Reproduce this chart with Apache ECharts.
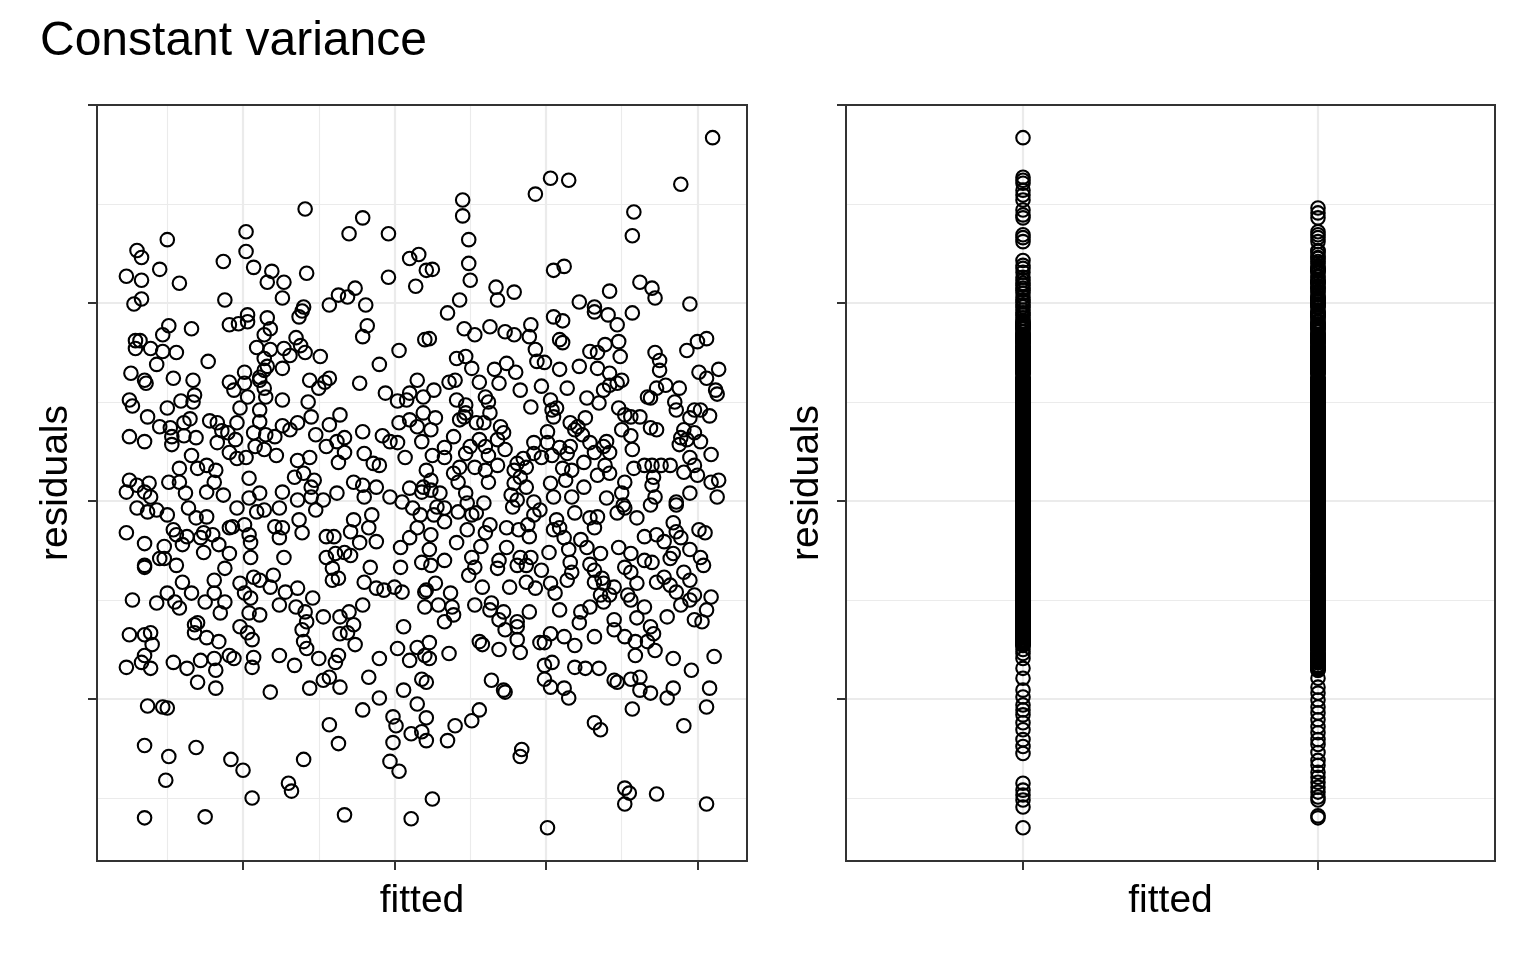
<!DOCTYPE html>
<html>
<head>
<meta charset="utf-8">
<title>Constant variance</title>
<script src="https://cdn.jsdelivr.net/npm/echarts@6.0.0/dist/echarts.min.js"></script>
<style>
html, body { margin: 0; padding: 0; background: #fff; }
#main { width: 1536px; height: 960px; }
</style>
</head>
<body>
<div id="main"></div>
<script>
// left panel: [fitted, residual]
var leftPoints = [
  [1.41,2.95],[1.02,2.72],[0.50,2.64],[1.79,2.86],[1.70,2.70],[1.96,2.70],[0.30,2.53],[0.33,2.46],
  [1.02,2.52],[0.87,2.42],[0.45,2.34],[0.23,2.27],[0.33,2.23],[0.58,2.20],[1.07,2.36],[1.19,2.32],
  [1.16,2.21],[1.27,2.21],[1.42,2.30],[1.26,2.05],[1.96,2.26],[2.10,2.45],[2.16,2.49],[2.14,2.17],
  [1.63,2.08],[1.69,2.06],[1.74,2.15],[1.81,1.98],[1.57,1.98],[0.88,2.03],[0.33,2.04],[0.28,1.99],
  [1.40,1.96],[2.21,2.33],
  [4.10,3.67],[3.03,3.26],[3.15,3.24],[2.93,3.10],[3.89,3.20],[2.45,3.04],[2.45,2.88],[3.58,2.92],
  [3.57,2.68],[2.49,2.64],[2.49,2.40],[2.50,2.23],[2.25,2.34],[2.67,2.16],[2.79,2.11],[2.68,2.03],
  [2.43,2.03],[3.05,2.33],[3.12,2.37],[3.22,2.01],[3.42,2.12],[3.62,2.21],[3.70,2.15],[3.72,2.05],
  [3.95,1.99],[3.32,1.96],
  [0.51,1.77],[0.66,1.74],[0.47,1.68],[0.29,1.62],[0.32,1.62],[0.29,1.54],[0.39,1.54],[0.47,1.51],
  [0.56,1.50],[0.43,1.38],[0.77,1.41],[0.26,1.29],[0.35,1.22],[0.36,1.19],[0.54,1.24],[0.67,1.22],
  [0.25,1.02],[0.27,0.96],[0.50,0.94],[0.59,1.01],[0.68,1.07],[0.67,1.00],[0.37,0.85],[0.45,0.75],
  [0.52,0.74],[0.61,0.79],[0.65,0.83],[0.78,0.81],[0.83,0.79],[0.86,0.71],[0.25,0.65],[0.35,0.60],
  [0.53,0.65],[0.53,0.57],[0.61,0.66],[0.69,0.64],[0.66,0.46],[0.83,0.59],[0.90,0.69],[0.95,0.62],
  [0.91,0.49],[0.96,0.43],[1.02,0.44],[0.91,1.78],[0.97,1.79],[1.03,1.88],[1.03,1.81],[1.16,1.85],
  [1.18,1.74],[1.14,1.68],[1.37,1.86],[1.39,1.92],[1.35,1.65],[1.09,1.55],[1.18,1.53],[1.27,1.54],
  [1.31,1.47],[1.38,1.57],[1.41,1.50],[1.51,1.46],[1.14,1.44],[1.16,1.36],[1.26,1.34],[1.01,1.30],
  [1.14,1.32],[1.11,1.25],[0.91,1.20],[0.94,1.12],[1.01,1.19],[1.03,1.05],[1.11,1.22],[1.14,1.14],
  [1.15,1.05],[1.26,1.02],[0.98,0.94],[1.11,0.92],[1.11,0.80],[0.96,0.79],[1.07,0.69],[1.15,0.67],
  [1.21,0.65],[1.08,0.55],[1.14,0.52],[1.22,0.46],[1.26,0.76],[1.31,0.72],[1.36,0.79],[1.44,1.22],
  [1.43,1.00],[1.45,0.85],[1.50,1.14],[1.54,1.20],[1.57,1.24],[1.48,0.67],[1.57,0.77],[1.64,0.87],
  [1.55,0.55],[1.62,0.60],[1.67,0.64],[1.63,0.39],[1.67,0.49],[1.36,0.41],[1.44,0.44],[1.79,1.66],
  [1.82,1.77],[1.90,1.38],[1.77,1.19],[2.03,1.52],[1.94,1.09],[2.02,1.01],[2.08,1.02],[2.15,1.22],
  [2.10,1.09],[1.79,0.70],[1.80,0.48],[1.92,0.66],[1.97,0.60],[2.02,0.59],[2.03,0.79],[2.10,0.82],
  [2.15,0.75],[2.07,0.44],[1.90,0.36],[1.86,0.38],[2.20,1.63],[0.25,0.21],[0.30,0.16],[0.35,0.09],
  [0.38,0.18],[0.39,0.04],[0.23,0.09],[0.58,0.33],[0.58,0.19],[0.51,0.19],[0.62,0.08],[0.70,0.33],
  [0.76,0.36],[0.82,0.31],[0.81,0.19],[0.76,0.09],[0.87,0.06],[1.04,0.23],[1.11,0.08],[1.26,0.09],
  [1.34,0.24],[1.40,0.28],[1.47,0.21],[1.45,0.14],[1.36,0.01],[1.45,0.04],[1.53,0.01],[1.62,0.08],
  [1.73,0.19],[1.79,0.16],[1.80,0.04],[1.88,0.14],[1.97,0.04],[2.10,0.13],[2.18,0.09],[2.21,0.31],
  [1.04,0.03],
  [2.35,1.90],[2.23,1.64],[2.46,1.74],[2.53,1.68],[2.63,1.76],[2.73,1.71],[2.79,1.68],[2.90,1.78],
  [2.89,1.66],[2.93,1.53],[3.05,1.86],[3.11,1.82],[3.09,1.63],[3.11,1.60],[3.32,1.91],[3.41,1.88],
  [3.47,1.78],[3.57,1.90],[3.48,1.61],[3.39,1.58],[3.29,1.51],[3.34,1.50],[3.49,1.46],[3.22,1.36],
  [3.34,1.34],[3.42,1.29],[3.72,1.50],[3.75,1.42],[3.75,1.32],[3.93,1.52],[4.00,1.61],[4.06,1.64],
  [4.01,1.30],[4.06,1.24],[4.14,1.33],[4.12,1.12],[4.13,1.08],[3.88,1.14],[3.79,1.17],[3.73,1.14],
  [3.69,1.04],[3.67,1.05],[3.85,1.00],[3.86,0.92],[4.02,0.92],[4.08,0.86],[2.41,1.44],[2.47,1.46],
  [2.51,1.34],[2.66,1.33],[2.74,1.39],[2.80,1.30],[2.94,1.41],[2.99,1.40],[3.09,1.33],[2.97,1.16],
  [2.83,1.12],[2.69,1.19],[2.56,1.20],[2.40,1.22],[2.36,1.20],[2.26,1.12],[2.19,1.05],[3.14,1.14],
  [3.27,1.04],[3.35,0.99],[3.38,1.12],[3.42,1.17],[3.47,1.19],[3.50,1.22],[2.41,1.02],[2.47,0.97],
  [2.60,1.05],[2.62,1.00],[2.90,0.95],[3.03,1.02],[3.04,0.92],[3.07,0.94],[3.48,0.94],[3.52,0.87],
  [3.56,0.85],[3.62,0.85],[3.69,0.74],[3.73,0.72],[3.98,0.92],[3.95,0.84],[3.91,0.72],[3.89,0.64],
  [3.88,0.57],[3.93,0.62],[3.98,0.69],[4.02,0.60],[4.09,0.47],[3.95,0.44],[3.98,0.36],[3.91,0.29],
  [4.00,0.26],[4.09,0.19],[4.14,0.21],[4.13,0.04],[3.95,0.08],[3.86,-0.01],[3.82,0.36],[3.76,0.36],
  [3.70,0.36],[3.65,0.36],[3.58,0.33],[3.71,0.24],[3.70,0.16],[3.72,0.04],[3.57,0.52],[3.56,0.66],
  [3.50,0.72],[3.40,0.60],[3.42,0.49],[3.38,0.55],[3.32,0.49],[3.39,0.36],[3.42,0.28],[3.34,0.26],
  [3.52,0.19],[3.50,0.08],[3.40,0.03],[3.29,0.59],[3.24,0.67],[3.25,0.39],[3.19,0.72],[3.21,0.75],
  [3.16,0.79],[3.26,0.84],[3.05,0.85],[3.01,0.70],[2.92,0.59],[3.01,0.59],[3.04,0.46],[3.09,0.54],
  [3.16,0.55],[3.14,0.48],[3.11,0.33],[3.17,0.31],[3.13,0.21],[3.25,0.14],[3.17,0.04],[3.03,0.18],
  [3.05,0.04],[2.97,0.44],[2.92,0.48],[2.85,0.43],[2.81,0.38],[2.87,0.34],[2.79,0.31],[2.83,0.24],
  [2.79,0.18],[2.87,0.14],[2.77,0.06],[2.81,0.01],[2.73,0.52],[2.70,0.75],[2.72,0.69],[2.68,0.62],
  [2.63,0.89],[2.59,0.79],[2.56,0.62],[2.60,0.55],[2.62,0.46],[2.68,0.36],[2.60,0.31],[2.62,0.19],
  [2.53,0.34],[2.47,0.48],[2.50,0.55],[2.43,0.34],[2.39,0.28],[2.42,0.19],[2.47,0.08],[2.46,0.85],
  [2.47,0.89],[2.43,0.82],[2.54,0.79],[2.39,0.65],[2.33,0.54],[2.33,0.44],[2.25,0.46],[2.18,0.60],
  [2.24,0.72],[2.27,0.84],[2.19,0.89],[2.24,0.21],[2.24,0.11],[2.19,0.14],[2.30,0.08],
  [0.23,-0.32],[0.35,-0.43],[0.30,-0.07],[0.37,-0.11],[0.43,-0.09],[0.50,-0.14],[0.54,-0.29],[0.56,-0.34],
  [0.48,-0.46],[0.45,-0.58],[0.48,-0.58],[0.35,-0.65],[0.35,-0.67],[0.56,-0.65],[0.60,-0.44],[0.63,-0.36],
  [0.64,-0.07],[0.69,-0.17],[0.76,-0.16],[0.74,-0.32],[0.72,-0.37],[0.74,-0.52],[0.80,-0.34],[0.84,-0.44],
  [0.91,-0.27],[0.93,-0.26],[0.91,-0.53],[0.88,-0.68],[0.96,-0.07],[1.01,-0.24],[1.04,-0.34],[1.05,-0.42],
  [1.05,-0.57],[1.09,-0.11],[1.14,-0.09],[1.21,-0.26],[1.24,-0.07],[1.26,-0.27],[1.24,-0.37],[1.27,-0.57],
  [1.37,-0.19],[1.39,-0.32],[1.48,-0.09],[1.55,-0.36],[1.60,-0.36],[1.55,-0.57],[1.61,-0.53],[1.67,-0.52],
  [1.71,-0.55],[1.59,-0.68],[1.59,-0.80],[1.63,-0.78],[1.71,-0.31],[1.73,-0.19],[1.77,-0.42],[1.83,-0.27],
  [1.85,-0.14],[1.88,-0.41],[1.84,-0.67],[1.80,-0.82],[1.88,-0.88],[1.93,-0.90],[2.00,-0.87],[2.05,-0.92],
  [2.04,-0.67],[2.04,-0.47],[2.10,-0.37],[2.15,-0.27],[2.17,-0.14],[2.12,-0.07],[2.05,-0.01],[2.18,-0.62],
  [2.20,-0.92],[2.20,-1.07],[0.27,-1.00],[0.43,-1.03],[0.50,-0.93],[0.55,-1.02],[0.58,-1.08],[0.60,-0.82],
  [0.66,-0.93],[0.75,-1.02],[0.81,-0.93],[0.81,-0.80],[0.88,-1.02],[0.85,-1.13],[0.98,-0.83],[1.01,-0.93],
  [1.05,-0.98],[1.04,-1.13],[1.11,-1.15],[1.07,-0.77],[1.11,-0.80],[1.20,-0.75],[1.18,-0.87],[1.24,-1.05],
  [1.28,-0.92],[1.36,-0.88],[1.35,-1.07],[1.46,-0.98],[1.41,-1.12],[1.42,-1.22],[1.39,-1.30],[1.53,-1.17],
  [1.64,-1.17],[1.70,-1.12],[1.73,-1.25],[1.79,-1.05],[1.69,-1.33],[1.64,-1.34],[1.74,-1.45],[2.06,-1.27],
  [0.25,-1.35],[0.35,-1.35],[0.39,-1.33],[0.40,-1.45],[0.35,-1.56],[0.33,-1.63],[0.23,-1.68],[0.39,-1.69],
  [0.54,-1.63],[0.63,-1.69],[0.68,-1.25],[0.68,-1.33],[0.70,-1.23],[0.76,-1.38],[0.84,-1.42],[0.72,-1.61],
  [0.81,-1.59],[0.82,-1.71],[0.70,-1.83],[0.82,-1.89],[0.91,-1.56],[0.94,-1.59],[0.98,-1.27],[1.03,-1.33],
  [1.06,-1.40],[1.07,-1.58],[1.06,-1.68],[1.24,-1.56],[1.34,-1.66],[1.40,-1.42],[1.42,-1.49],[1.50,-1.59],
  [1.61,-1.63],[1.63,-1.56],[1.57,-1.78],[1.53,-1.81],[1.44,-1.89],[1.64,-1.88],[1.18,-1.93],[1.83,-1.78],
  [1.90,-1.59],[2.02,-1.49],[2.10,-1.61],[2.15,-1.48],[2.20,-1.56],[2.06,-1.91],[1.90,-1.99],[2.18,-1.80],
  [3.51,-0.04],[3.69,-0.04],[2.78,-0.06],[2.92,-0.01],[2.59,-0.02],[2.48,-0.02],[2.28,-0.06],[2.33,-0.07],
  [2.42,-0.11],[2.51,-0.14],[2.54,-0.12],[2.63,-0.24],[2.48,-0.29],[2.60,-0.32],[2.57,-0.46],[2.51,-0.57],
  [2.53,-0.67],[2.49,-0.75],[2.58,-0.87],[2.41,-0.42],[2.33,-0.60],[2.24,-0.65],[2.23,-0.49],[2.24,-0.34],
  [2.33,-0.21],[2.26,-0.14],[2.74,-0.27],[2.82,-0.29],[2.88,-0.24],[2.92,-0.14],[2.96,-0.09],[2.89,-0.36],
  [2.74,-0.47],[2.69,-0.60],[2.68,-0.68],[2.83,-0.57],[2.90,-0.57],[2.81,-0.65],[2.87,-0.65],[2.97,-0.70],
  [2.87,-0.82],[2.93,-0.88],[2.76,-0.87],[3.03,-0.83],[3.06,-0.93],[3.02,-0.52],[3.07,-0.19],[3.09,-0.27],
  [3.05,-0.29],[3.12,-0.37],[3.15,-0.49],[3.16,-0.62],[3.17,-0.72],[3.14,-0.80],[3.23,-0.39],[3.27,-0.47],
  [3.19,-0.12],[3.29,-0.17],[3.34,-0.16],[3.32,-0.27],[3.36,-0.53],[3.29,-0.64],[3.32,-0.70],[3.37,-0.78],
  [3.32,-0.82],[3.38,-0.83],[3.47,-0.12],[3.52,-0.07],[3.60,-0.17],[3.48,-0.47],[3.56,-0.53],[3.52,-0.67],
  [3.56,-0.72],[3.60,-0.83],[3.45,-0.87],[3.42,-0.95],[3.36,-0.95],[3.38,-1.02],[3.29,-1.07],[3.54,-0.95],
  [3.56,-1.00],[3.65,-0.60],[3.70,-0.62],[3.65,-0.36],[3.73,-0.34],[3.78,-0.41],[3.84,-0.22],[3.86,-0.31],
  [3.89,-0.37],[3.86,-0.04],[3.84,-0.53],[3.82,-0.58],[3.95,-0.49],[4.01,-0.29],[4.05,-0.32],[4.02,-0.57],
  [4.04,-0.65],[3.91,-0.72],[3.95,-0.80],[3.78,-0.77],[3.73,-0.82],[3.82,-0.85],[3.86,-0.92],[3.98,-0.95],
  [4.09,-0.97],[3.89,-1.05],[3.95,-1.00],[4.06,-1.10],[3.98,-1.20],[4.03,-1.22],[3.80,-1.17],[3.65,-1.07],
  [3.60,-1.18],[3.69,-1.27],[3.71,-1.34],[3.67,-1.42],[3.72,-1.51],[3.59,-1.42],[3.59,-1.56],[3.52,-1.37],
  [3.45,-1.30],[3.45,-1.20],[3.32,-1.37],[3.19,-1.46],[3.12,-1.37],[3.03,-1.34],[3.22,-1.23],[3.23,-1.12],
  [3.09,-1.10],[2.96,-1.43],[2.99,-1.43],[2.89,-1.12],[2.81,-1.22],[2.81,-1.27],[2.81,-1.40],[2.83,-1.53],
  [2.72,-1.12],[2.69,-1.20],[2.73,-1.30],[2.69,-1.50],[2.64,-1.03],[2.53,-1.05],[2.63,-1.10],[2.56,-1.42],
  [2.58,-1.45],[2.64,-1.81],[2.72,-1.91],[2.36,-1.54],[2.23,-1.43],[2.23,-1.59],[2.21,-1.83],[2.21,-0.90],
  [2.27,-0.83],[2.29,-1.05],[2.33,-1.22],[2.38,-1.07],[2.39,-1.15],[2.37,-0.93],[2.99,-1.66],[3.04,-1.63],
  [2.99,-1.80],[3.03,-1.88],[3.12,-1.89],[3.15,-1.99],[3.19,-1.68],[3.26,-1.69],[3.35,-1.69],[3.45,-1.81],
  [3.47,-1.83],[3.56,-1.80],[3.62,-1.78],[3.62,-1.91],[3.69,-1.94],[3.80,-1.99],[3.84,-1.59],[3.96,-1.71],
  [3.84,-1.89],[4.11,-1.57],[4.08,-1.89],
  [0.37,-2.07],[0.47,-2.08],[0.50,-2.09],[1.79,-2.11],[1.57,-2.26],[1.63,-2.45],[1.99,-2.18],[2.01,-2.27],
  [2.15,-2.05],[2.21,-2.19],[2.18,-2.33],[2.11,-2.35],[2.21,-2.42],[1.99,-2.44],[1.97,-2.63],[2.03,-2.73],
  [2.35,-2.42],[2.40,-2.27],[2.51,-2.22],[2.56,-2.11],[2.73,-1.93],[2.84,-2.51],[2.83,-2.58],[3.32,-2.24],
  [3.36,-2.31],[3.57,-2.10],[3.91,-2.27],[4.06,-2.08],[0.35,-2.47],[0.51,-2.58],[0.69,-2.49],[0.49,-2.82],
  [0.92,-2.61],[1.00,-2.72],[1.40,-2.61],[1.30,-2.85],[1.32,-2.93],[1.06,-3.00],[0.35,-3.20],[0.75,-3.19],
  [1.67,-3.17],[2.11,-3.21],[2.25,-3.01],[3.01,-3.30],[3.52,-2.90],[3.55,-2.95],[3.52,-3.06],[3.73,-2.96],
  [4.06,-3.06]
];

// right panel: two fitted levels. Each column is solid inside its band,
// the rings outside the band are read one by one.
var fittedLevels = [0, 1];
var bandLevel0 = [-1.47, 1.83];
var bandLevel1 = [-1.74, 2.57];
var tailsLevel0 = [3.67, 3.27, 3.24, 3.21, 3.14, 3.09, 3.04, 2.94, 2.89, 2.86, 2.69, 2.66, 2.62,
  2.43, 2.38, 2.35, 2.31, 2.26, 2.23, 2.20, 2.18, 2.15, 2.13, 2.10, 2.06, 2.03, 2.01, 1.98, 1.96,
  1.93, 1.90, 1.88, 1.85,
  -1.50, -1.54, -1.59, -1.69, -1.79, -1.91, -1.98, -2.06, -2.11, -2.16, -2.24, -2.31, -2.41,
  -2.48, -2.55, -2.85, -2.92, -2.97, -3.02, -3.09, -3.30];
var tailsLevel1 = [2.96, 2.91, 2.86, 2.72, 2.69, 2.66, 2.62,
  -1.79, -1.88, -1.94, -2.01, -2.08, -2.14, -2.21, -2.28, -2.34, -2.41, -2.46, -2.54, -2.62,
  -2.67, -2.74, -2.79, -2.84, -2.89, -2.94, -2.99, -3.02, -3.18, -3.20];

var xRangeLeft = [0.036, 4.327];
var xRangeRight = [-0.6, 1.6];
var yRange = [-3.636, 4.0];
var xMajorLeft = [1, 2, 3, 4];
var xMinorLeft = [0.5, 1.5, 2.5, 3.5];
var yMajor = [-2, 0, 2, 4];
var yMinor = [-3, -1, 1, 3];

var FONT = "'Liberation Sans', Arial, Helvetica, sans-serif";

function columnValues(level, band, tails) {
    var out = [];
    leftPoints.forEach(function(p) {
        if (p[1] >= band[0] && p[1] <= band[1]) out.push([level, p[1]]);
    });
    tails.forEach(function(v) { out.push([level, v]); });
    return out;
}

function axis(gridIndex, range, ticks, major, name, nameGap) {
    var a = {
        type: 'value',
        gridIndex: gridIndex,
        min: range[0],
        max: range[1],
        silent: true,
        axisLine: { show: false, onZero: false },
        axisLabel: { show: false },
        axisTick: {
            show: major,
            customValues: ticks,
            length: 9,
            lineStyle: { color: '#333333', width: 2 }
        },
        splitLine: {
            show: true,
            lineStyle: { color: '#ebebeb', width: major ? 2.2 : 1.1 }
        }
    };
    if (name) {
        a.name = name;
        a.nameLocation = 'middle';
        a.nameGap = nameGap;
        a.nameTextStyle = { fontSize: 39, color: '#000', fontFamily: FONT };
    }
    return a;
}

var ring = {
    type: 'scatter',
    symbol: 'circle',
    symbolSize: 13.5,
    itemStyle: { color: 'rgba(0,0,0,0)', borderColor: '#000', borderWidth: 2.1, opacity: 1 },
    emphasis: { disabled: true },
    silent: true
};

var chart = echarts.init(document.getElementById('main'), null, { renderer: 'canvas' });
var option = {
    animation: false,
    backgroundColor: '#fff',
    title: {
        text: 'Constant variance',
        left: 40,
        top: 18,
        padding: 0,
        textStyle: { fontSize: 48, fontWeight: 'normal', color: '#000', fontFamily: FONT }
    },
    grid: [
        { left: 97, top: 105, width: 650, height: 756, show: true, z: 3,
          backgroundColor: 'rgba(0,0,0,0)', borderColor: '#333333', borderWidth: 2 },
        { left: 846, top: 105, width: 649, height: 756, show: true, z: 3,
          backgroundColor: 'rgba(0,0,0,0)', borderColor: '#333333', borderWidth: 2 }
    ],
    xAxis: [
        axis(0, xRangeLeft, xMajorLeft, true, 'fitted', 21),
        axis(0, xRangeLeft, xMinorLeft, false),
        axis(1, xRangeRight, fittedLevels, true, 'fitted', 21)
    ],
    yAxis: [
        axis(0, yRange, yMajor, true, 'residuals', 21),
        axis(0, yRange, yMinor, false),
        axis(1, yRange, yMajor, true, 'residuals', 19),
        axis(1, yRange, yMinor, false)
    ],
    series: [
        Object.assign({}, ring, { xAxisIndex: 0, yAxisIndex: 0, data: leftPoints }),
        Object.assign({}, ring, { xAxisIndex: 2, yAxisIndex: 2,
            data: columnValues(fittedLevels[0], bandLevel0, tailsLevel0) }),
        Object.assign({}, ring, { xAxisIndex: 2, yAxisIndex: 2,
            data: columnValues(fittedLevels[1], bandLevel1, tailsLevel1) })
    ]
};
chart.setOption(option);
</script>
</body>
</html>
